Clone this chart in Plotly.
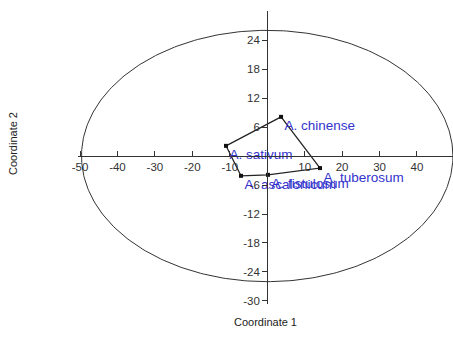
import numpy as np
import plotly.graph_objects as go

# --- data ---
species = ["A. chinense", "A. sativum", "A. tuberosum", "A. fistulosum", "A. ascalonicum"]
coord1 = [3.7, -11.0, 14.1, 0.2, -7.0]
coord2 = [8.1, 2.1, -2.5, -3.9, -4.1]
hull_order = [1, 0, 2, 3, 4, 1]          # convex hull vertex order (indices into species)
ellipse_center = [0.0, 0.0]
ellipse_axes = [49.6, 26.0]               # semi-axes along Coordinate 1 / Coordinate 2
xtick_vals = [-50, -40, -30, -20, -10, 10, 20, 30, 40]
ytick_vals = [-30, -24, -18, -12, -6, 6, 12, 18, 24]

W, H = 453, 340
label_color = "#3333cc"
axis_color = "#333333"
font_family = "Liberation Sans, Arial, sans-serif"

fig = go.Figure()

# ellipse
t = np.linspace(0, 2 * np.pi, 361)
fig.add_trace(go.Scatter(
    x=ellipse_center[0] + ellipse_axes[0] * np.cos(t),
    y=ellipse_center[1] + ellipse_axes[1] * np.sin(t),
    mode="lines", line=dict(color=axis_color, width=1), hoverinfo="skip", showlegend=False))

# convex hull
fig.add_trace(go.Scatter(
    x=[coord1[i] for i in hull_order], y=[coord2[i] for i in hull_order],
    mode="lines", line=dict(color="#222222", width=1.2), hoverinfo="skip", showlegend=False))

# points + labels
fig.add_trace(go.Scatter(
    x=coord1, y=coord2, mode="markers+text", text=species, textposition="bottom right",
    marker=dict(color="#111111", size=4, symbol="square"),
    textfont=dict(color=label_color, size=13.5, family=font_family),
    cliponaxis=False, showlegend=False))

# axis geometry (pixel layout of the reference)
x_left_px, x_right_px = 78, 453
y_top_px, y_bot_px = 11, 304
x0_px, xscale = 267.2, 3.744
y0_px, yscale = 156.0, 4.833

fig.update_layout(
    width=W, height=H, margin=dict(l=0, r=0, t=0, b=0, autoexpand=False),
    paper_bgcolor="white", plot_bgcolor="white",
    font=dict(family=font_family, color=axis_color, size=11),
    xaxis=dict(
        domain=[x_left_px / W, x_right_px / W],
        range=[(x_left_px - x0_px) / xscale, (x_right_px - x0_px) / xscale],
        anchor="free", position=1 - y0_px / H, automargin=False,
        showgrid=False, zeroline=False, showline=True, linecolor=axis_color, linewidth=1,
        tickmode="array", tickvals=xtick_vals, ticktext=[str(v) for v in xtick_vals],
        ticks="inside", ticklen=5, tickcolor=axis_color,
        tickfont=dict(size=11.5, color=axis_color, family=font_family)),
    yaxis=dict(
        domain=[1 - y_bot_px / H, 1 - y_top_px / H],
        range=[(y0_px - y_bot_px) / yscale, (y0_px - y_top_px) / yscale],
        anchor="free", position=x0_px / W, automargin=False,
        showgrid=False, zeroline=False, showline=True, linecolor=axis_color, linewidth=1,
        tickmode="array", tickvals=ytick_vals, ticktext=[str(v) for v in ytick_vals],
        ticks="outside", ticklen=5, tickcolor=axis_color,
        tickfont=dict(size=11.5, color=axis_color, family=font_family)),
    annotations=[
        dict(text="Coordinate 1", x=265 / W, y=1 - 322 / H, xref="paper", yref="paper",
             xanchor="center", yanchor="middle",
             showarrow=False, font=dict(size=11, color="#222222", family=font_family)),
        dict(text="Coordinate 2", x=13 / W, y=1 - 144 / H, xref="paper", yref="paper",
             xanchor="center", yanchor="middle",
             textangle=-90, showarrow=False, font=dict(size=11, color="#222222", family=font_family)),
    ],
)

fig.write_html("out.html", config={"displayModeBar": False},
               post_script="document.body.style.margin='0px';document.body.style.overflow='hidden';")
